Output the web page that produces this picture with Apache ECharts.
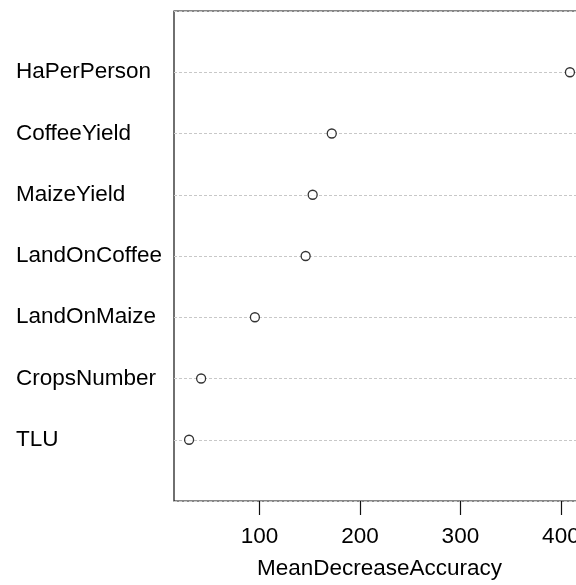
<!DOCTYPE html>
<html><head><meta charset="utf-8">
<script src="https://cdn.jsdelivr.net/npm/echarts@6/dist/echarts.min.js"></script>
<style>html,body{margin:0;padding:0;background:#fff;overflow:hidden;width:576px;height:585px}#c{width:590px;height:585px}</style>
</head><body><div id="c"></div>
<script>
// Variables, bottom (position 1) to top (position 7)
const categories = ['TLU','CropsNumber','LandOnMaize','LandOnCoffee','MaizeYield','CoffeeYield','HaPerPerson'];
const meanDecreaseAccuracy = [30, 42, 95.5, 146, 153, 172, 409];
const xTicks = [100, 200, 300, 400];

const font = '"Liberation Sans", Arial, sans-serif';
const data = meanDecreaseAccuracy.map((v, i) => [v, i + 1]);

const chart = echarts.init(document.getElementById('c'), null, {renderer: 'canvas'});
chart.setOption({
  animation: false,
  backgroundColor: '#fff',
  grid: {left: 174, top: 11, bottom: 83, right: 5, show: true, borderColor: '#111', borderWidth: 1.2, backgroundColor: 'transparent'},
  xAxis: {
    type: 'value', min: 15, max: 424,
    name: 'MeanDecreaseAccuracy', nameLocation: 'middle', nameGap: 56,
    nameTextStyle: {fontFamily: font, fontSize: 22.5, color: '#000'},
    axisLine: {show: false},
    splitLine: {show: false},
    axisTick: {show: true, length: 14, lineStyle: {color: '#111', width: 1.2}, customValues: xTicks},
    axisLabel: {fontFamily: font, fontSize: 22.5, color: '#000', margin: 24, customValues: xTicks}
  },
  yAxis: {
    type: 'value', min: 0, max: 8, interval: 1,
    axisLine: {show: false}, axisTick: {show: false},
    splitLine: {show: true, lineStyle: {color: '#c8c8c8', type: [3, 2], width: 1}},
    axisLabel: {
      fontFamily: font, fontSize: 22.5, color: '#000', align: 'left', margin: 158,
      formatter: v => (v >= 1 && v <= categories.length) ? categories[v - 1] : ''
    }
  },
  series: [{
    type: 'scatter', data: data, symbol: 'circle', symbolSize: 9,
    itemStyle: {color: '#fff', borderColor: '#000', borderWidth: 1.3},
    z: 5
  }]
});
</script></body></html>
